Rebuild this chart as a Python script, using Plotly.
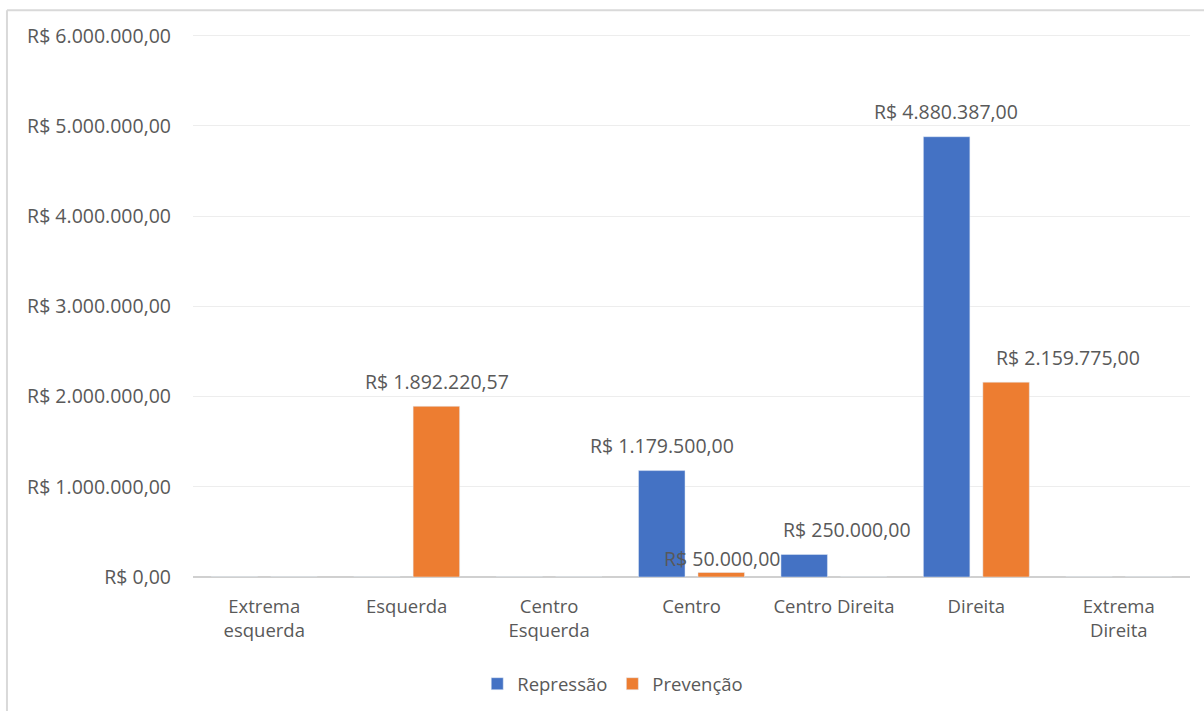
import plotly.graph_objects as go

categories = ["Extrema<br>esquerda", "Esquerda", "Centro<br>Esquerda", "Centro",
              "Centro Direita", "Direita", "Extrema<br>Direita"]
repressao = [0, 0, 0, 1179500.00, 250000.00, 4880387.00, 0]
prevencao = [0, 1892220.57, 0, 50000.00, 0, 2159775.00, 0]
y_ticks = [0, 1000000, 2000000, 3000000, 4000000, 5000000, 6000000]


def brl(v):
    s = f"{v:,.2f}"
    s = s.replace(",", "X").replace(".", ",").replace("X", ".")
    return "R$ " + s


BLUE = "#4472C4"
ORANGE = "#ED7D31"
TXT = "#595959"
FONT = "Open Sans"

fig = go.Figure()
fig.add_trace(go.Bar(name="Repressão", x=categories, y=repressao, marker_color=BLUE))
fig.add_trace(go.Bar(name="Prevenção", x=categories, y=prevencao, marker_color=ORANGE))

# label placement (pixel shifts) per series / category index
base_shift = {"rep": -30, "prev": 30}
extra_x = {("rep", 4): 43, ("prev", 5): 62}
extra_y = {("prev", 3): -11}

for key, vals in (("rep", repressao), ("prev", prevencao)):
    for i, (c, v) in enumerate(zip(categories, vals)):
        if v == 0:
            continue
        fig.add_annotation(
            x=c, y=v, text=brl(v), showarrow=False,
            xref="x", yref="y", xanchor="center", yanchor="middle",
            xshift=base_shift[key] + extra_x.get((key, i), 0),
            yshift=25 + extra_y.get((key, i), 0),
            font=dict(family=FONT, size=19.5, color=TXT),
        )

# outer chart-area border (cropped: only top and left edges visible)
fig.add_shape(type="line", xref="paper", yref="paper",
              x0=-0.1866, x1=1.05, y0=1.042, y1=1.042,
              line=dict(color="#D9D9D9", width=2))
fig.add_shape(type="line", xref="paper", yref="paper",
              x0=-0.1866, x1=-0.1866, y0=1.042, y1=-0.3,
              line=dict(color="#D9D9D9", width=2))

fig.update_layout(
    width=1204, height=711,
    margin=dict(l=193, r=14, t=33, b=134, autoexpand=False),
    paper_bgcolor="white", plot_bgcolor="white",
    barmode="group", bargap=0.165, bargroupgap=0.218,
    font=dict(family=FONT, color=TXT, size=18.5),
    showlegend=True,
    legend=dict(orientation="h", x=0.421, xanchor="center", y=-0.197, yanchor="middle",
                font=dict(family=FONT, size=18.5, color=TXT), traceorder="normal"),
)
fig.update_xaxes(
    type="category", showgrid=False, showline=False, ticks="", automargin=False,
    ticklabelstandoff=16,
    tickfont=dict(family=FONT, size=18.5, color=TXT),
)
fig.update_yaxes(
    range=[0, 6030000], tickvals=y_ticks, ticktext=[brl(v) for v in y_ticks],
    showgrid=True, gridcolor="#EDEDED", gridwidth=1, automargin=False,
    zeroline=True, zerolinecolor="#D0D0D0", zerolinewidth=1.5,
    showline=False, ticks="", ticklabelstandoff=21,
    tickfont=dict(family=FONT, size=19.5, color=TXT),
)

fig.write_html("out.html", config={"displayModeBar": False},
               post_script="document.body.style.margin='0';")
